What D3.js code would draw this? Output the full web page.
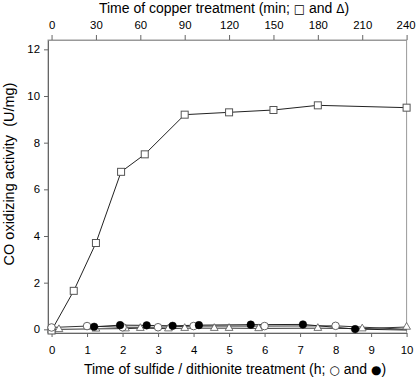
<!DOCTYPE html>
<html><head><meta charset="utf-8">
<script src="https://cdn.jsdelivr.net/npm/d3@7"></script>
<style>
html,body{margin:0;padding:0;background:#fff;}
text{font-family:"Liberation Sans",Arial,sans-serif;fill:#000;}
</style></head>
<body>
<svg id="c" width="416" height="378"></svg>
<script>
// Copper treatment (minutes): squares and triangles
const copperMinSquares = [0, 15, 30, 47, 63, 90, 120, 150, 180, 240];
const squareValues     = [-0.05, 1.65, 3.7, 6.75, 7.5, 9.2, 9.3, 9.4, 9.6, 9.5];
const copperMinTriangles = [0, 5, 30, 50, 60, 79, 90, 110, 120, 140, 180, 210, 240];
const triangleValues     = [-0.03, 0.0, 0.02, 0.03, 0.05, 0.03, 0.05, 0.05, 0.05, 0.04, 0.05, 0.03, 0.1];
// Sulfide / dithionite treatment (hours): open and filled circles
const openHours   = [0, 1, 2, 3, 4, 6, 8, 10];
const openValues  = [0.08, 0.14, 0.09, 0.09, 0.14, 0.14, 0.15, 0.0];
const filledHours  = [1.2, 1.93, 2.68, 3.41, 4.15, 5.61, 7.08, 8.55, 10];
const filledValues = [0.11, 0.18, 0.17, 0.15, 0.18, 0.2, 0.21, 0.01, -0.03];
// Tick labels
const hourTicks = [0,1,2,3,4,5,6,7,8,9,10];
const minTicks = [0,30,60,90,120,150,180,210,240];
const yTicks = [0,2,4,6,8,10,12];

const svg = d3.select("#c");
const L = 48, R = 406.6, T = 40, B = 333;
const xH = d3.scaleLinear().domain([-0.1, 10]).range([L, R]);
const xM = d3.scaleLinear().domain([-2.4, 240]).range([L, R]);
const y = d3.scaleLinear().domain([-0.157, 12.4]).range([B, T]);

// frame
const axisCol = "#666";
svg.append("rect").attr("x", L).attr("y", T).attr("width", R-L).attr("height", B-T)
  .attr("fill","none").attr("stroke","#999").attr("stroke-width",1);

// axes
const gB = svg.append("g").attr("transform",`translate(0,${B})`)
  .call(d3.axisBottom(xH).tickValues(hourTicks).tickSizeInner(4).tickSizeOuter(0).tickPadding(9).tickFormat(d3.format("d")));
const gT = svg.append("g").attr("transform",`translate(0,${T})`)
  .call(d3.axisTop(xM).tickValues(minTicks).tickSizeInner(5).tickSizeOuter(0).tickPadding(6).tickFormat(d3.format("d")));
const gL = svg.append("g").attr("transform",`translate(${L},0)`)
  .call(d3.axisLeft(y).tickValues(yTicks).tickSizeInner(4).tickSizeOuter(0).tickPadding(4).tickFormat(d3.format("d")));
[gB,gT,gL].forEach(g=>{
  g.select(".domain").attr("stroke",axisCol);
  g.selectAll(".tick line").attr("stroke",axisCol);
  g.selectAll(".tick text").attr("font-size",11.4).attr("font-family","Liberation Sans, Arial, sans-serif").attr("fill","#000");
});
gT.select(".domain").attr("stroke","#999");
gT.selectAll(".tick text").filter(d=>d===240).attr("dx",-1);

// titles with symbol glyphs
function title(sel, parts){
  parts.forEach(([s, sym])=>{
    const t = sel.append("tspan").text(s);
    if (sym) t.attr("font-family","DejaVu Sans").attr("font-size",12);
  });
}
const tTop = svg.append("text").attr("x", 224).attr("y", 13).attr("text-anchor","middle").attr("font-size",14);
title(tTop, [["Time of copper treatment (min; "],["\u25A1",1],[" and "],["\u0394",1],[")"]]);
const tBot = svg.append("text").attr("x", 235).attr("y", 374).attr("text-anchor","middle").attr("font-size",14);
title(tBot, [["Time of sulfide / dithionite treatment (h; "],["\u25CB",1],[" and "],["\u25CF",1],[")"]]);
svg.append("text").attr("transform","translate(14,174) rotate(-90)").attr("text-anchor","middle").attr("font-size",14.5)
  .attr("xml:space","preserve").text("CO oxidizing activity  (U/mg)");

// series data
const sq = copperMinSquares.map((t,i)=>({x:xM(t), y:y(squareValues[i]), t}));
const tr = copperMinTriangles.map((t,i)=>({x:xM(t), y:y(triangleValues[i]), t}));
const op = openHours.map((t,i)=>({x:xH(t), y:y(openValues[i]), t}));
const fi = filledHours.map((t,i)=>({x:xH(t), y:y(filledValues[i]), t}));

const line = d3.line().x(d=>d.x).y(d=>d.y);
[[tr,"#333"],[op,"#333"],[fi,"#222"],[sq,"#222"]].forEach(([d,c])=>{
  svg.append("path").attr("d", line(d)).attr("fill","none").attr("stroke",c).attr("stroke-width",1);
});

// markers
const triSym = d3.symbol().type(d3.symbolTriangle).size(26);
svg.append("g").selectAll("path").data(tr).join("path")
  .attr("transform", d=>`translate(${d.x},${d.y})`).attr("d", triSym)
  .attr("fill","#fff").attr("stroke","#555").attr("stroke-width",0.8);
svg.append("g").selectAll("rect").data(sq).join("rect")
  .attr("x", d=>d.x-3.5).attr("y", d=>d.y-3.5).attr("width",7).attr("height",7)
  .attr("fill","#fff").attr("stroke","#555").attr("stroke-width",1);
svg.append("g").selectAll("circle").data(op.filter(d=>d.t<10)).join("circle")
  .attr("cx", d=>d.x).attr("cy", d=>d.y).attr("r",3.8)
  .attr("fill","#fff").attr("stroke","#555").attr("stroke-width",0.9);
svg.append("g").selectAll("circle").data(fi.filter(d=>d.t<10)).join("circle")
  .attr("cx", d=>d.x).attr("cy", d=>d.y).attr("r",3.8)
  .attr("fill","#000").attr("stroke","#000").attr("stroke-width",0.5);
</script>
</body></html>
